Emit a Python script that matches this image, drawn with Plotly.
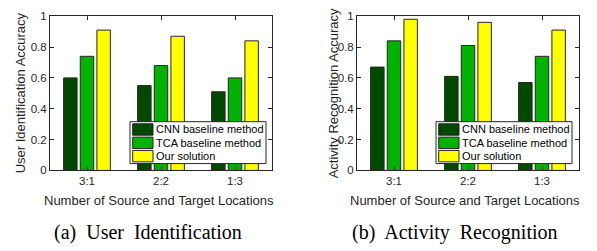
import plotly.graph_objects as go

categories = ["3:1", "2:2", "1:3"]
series_names = ["CNN baseline method", "TCA baseline method", "Our solution"]
user_id_cnn = [0.60, 0.55, 0.51]
user_id_tca = [0.74, 0.68, 0.60]
user_id_ours = [0.91, 0.87, 0.84]
act_cnn = [0.67, 0.61, 0.57]
act_tca = [0.84, 0.81, 0.74]
act_ours = [0.98, 0.96, 0.91]
y_ticks = [0, 0.2, 0.4, 0.6, 0.8, 1]
y_ticklabels = ["0", "0.2", "0.4", "0.6", "0.8", "1"]

colors = ["#004a00", "#00b300", "#ffff00"]
edge = "#262626"
sans = "Liberation Sans, Arial, sans-serif"
serif = "Liberation Serif, Times New Roman, serif"
W, H = 597, 251


def px(x):
    return x / W


def py(y):
    return (H - y) / H


fig = go.Figure()
left = [user_id_cnn, user_id_tca, user_id_ours]
right = [act_cnn, act_tca, act_ours]
for i, (name, vals) in enumerate(zip(series_names, left)):
    fig.add_trace(go.Bar(x=categories, y=vals, name=name, xaxis="x", yaxis="y",
                         marker=dict(color=colors[i], line=dict(color=edge, width=1)),
                         showlegend=False))
for i, (name, vals) in enumerate(zip(series_names, right)):
    fig.add_trace(go.Bar(x=categories, y=vals, name=name, xaxis="x2", yaxis="y2",
                         marker=dict(color=colors[i], line=dict(color=edge, width=1)),
                         showlegend=False))

ydom = [py(172.7), py(10.7)]
axis_common = dict(showline=True, linecolor=edge, linewidth=1, mirror="ticks",
                   ticks="inside", tickcolor=edge, ticklen=4, showgrid=False,
                   zeroline=False, tickfont=dict(family=sans, size=11.5, color="#262626"))

fig.update_layout(
    width=W, height=H, autosize=False,
    margin=dict(l=0, r=0, t=0, b=0),
    paper_bgcolor="white", plot_bgcolor="white",
    barmode="group", bargap=0.325, bargroupgap=0.19,
    showlegend=False,
    xaxis=dict(domain=[px(50), px(272)], anchor="y", range=[-0.5, 2.5], **axis_common),
    yaxis=dict(domain=ydom, anchor="x", range=[0, 1], tickvals=y_ticks, ticktext=y_ticklabels, **axis_common),
    xaxis2=dict(domain=[px(357), px(579)], anchor="y2", range=[-0.5, 2.5], **axis_common),
    yaxis2=dict(domain=ydom, anchor="x2", range=[0, 1], tickvals=y_ticks, ticktext=y_ticklabels, **axis_common),
)

# Legend boxes (MATLAB-style legend: wide swatches, tight rows)
for lx in (130, 436):
    fig.add_shape(type="rect", xref="paper", yref="paper",
                  x0=px(lx), x1=px(lx + 136), y0=py(165.5), y1=py(121.5),
                  fillcolor="white", line=dict(color=edge, width=1), layer="above")
    for k, name in enumerate(series_names):
        cy = 129.7 + k * 14
        fig.add_shape(type="rect", xref="paper", yref="paper",
                      x0=px(lx + 2.7), x1=px(lx + 23), y0=py(cy + 6), y1=py(cy - 6),
                      fillcolor=colors[k], line=dict(color=edge, width=1), layer="above")
        fig.add_annotation(xref="paper", yref="paper", x=px(lx + 24), y=py(cy),
                           text=name, showarrow=False, xanchor="left", yanchor="middle",
                           font=dict(family=sans, size=11, color="black"))

annos = [
    dict(text="Number of Source and Target Locations", x=px(159), y=py(204),
         font=dict(family=sans, size=13, color="#262626")),
    dict(text="Number of Source and Target Locations", x=px(465), y=py(204),
         font=dict(family=sans, size=13, color="#262626")),
    dict(text="User Identification Accuracy", x=px(20), y=py(91.7), textangle=-90,
         font=dict(family=sans, size=13, color="#262626")),
    dict(text="Activity Recognition Accuracy", x=px(333), y=py(91.7), textangle=-90,
         font=dict(family=sans, size=13, color="#262626")),
    dict(text="(a)\u00a0 User\u00a0 Identification", x=px(148), y=py(238),
         font=dict(family=serif, size=20, color="black")),
    dict(text="(b)\u00a0 Activity\u00a0 Recognition", x=px(455), y=py(238),
         font=dict(family=serif, size=20, color="black")),
]
for a in annos:
    fig.add_annotation(xref="paper", yref="paper", showarrow=False,
                       xanchor="center", yanchor="middle", **a)

fig.write_html("out.html", config={"displayModeBar": False},
               post_script="document.body.style.margin='0';")
